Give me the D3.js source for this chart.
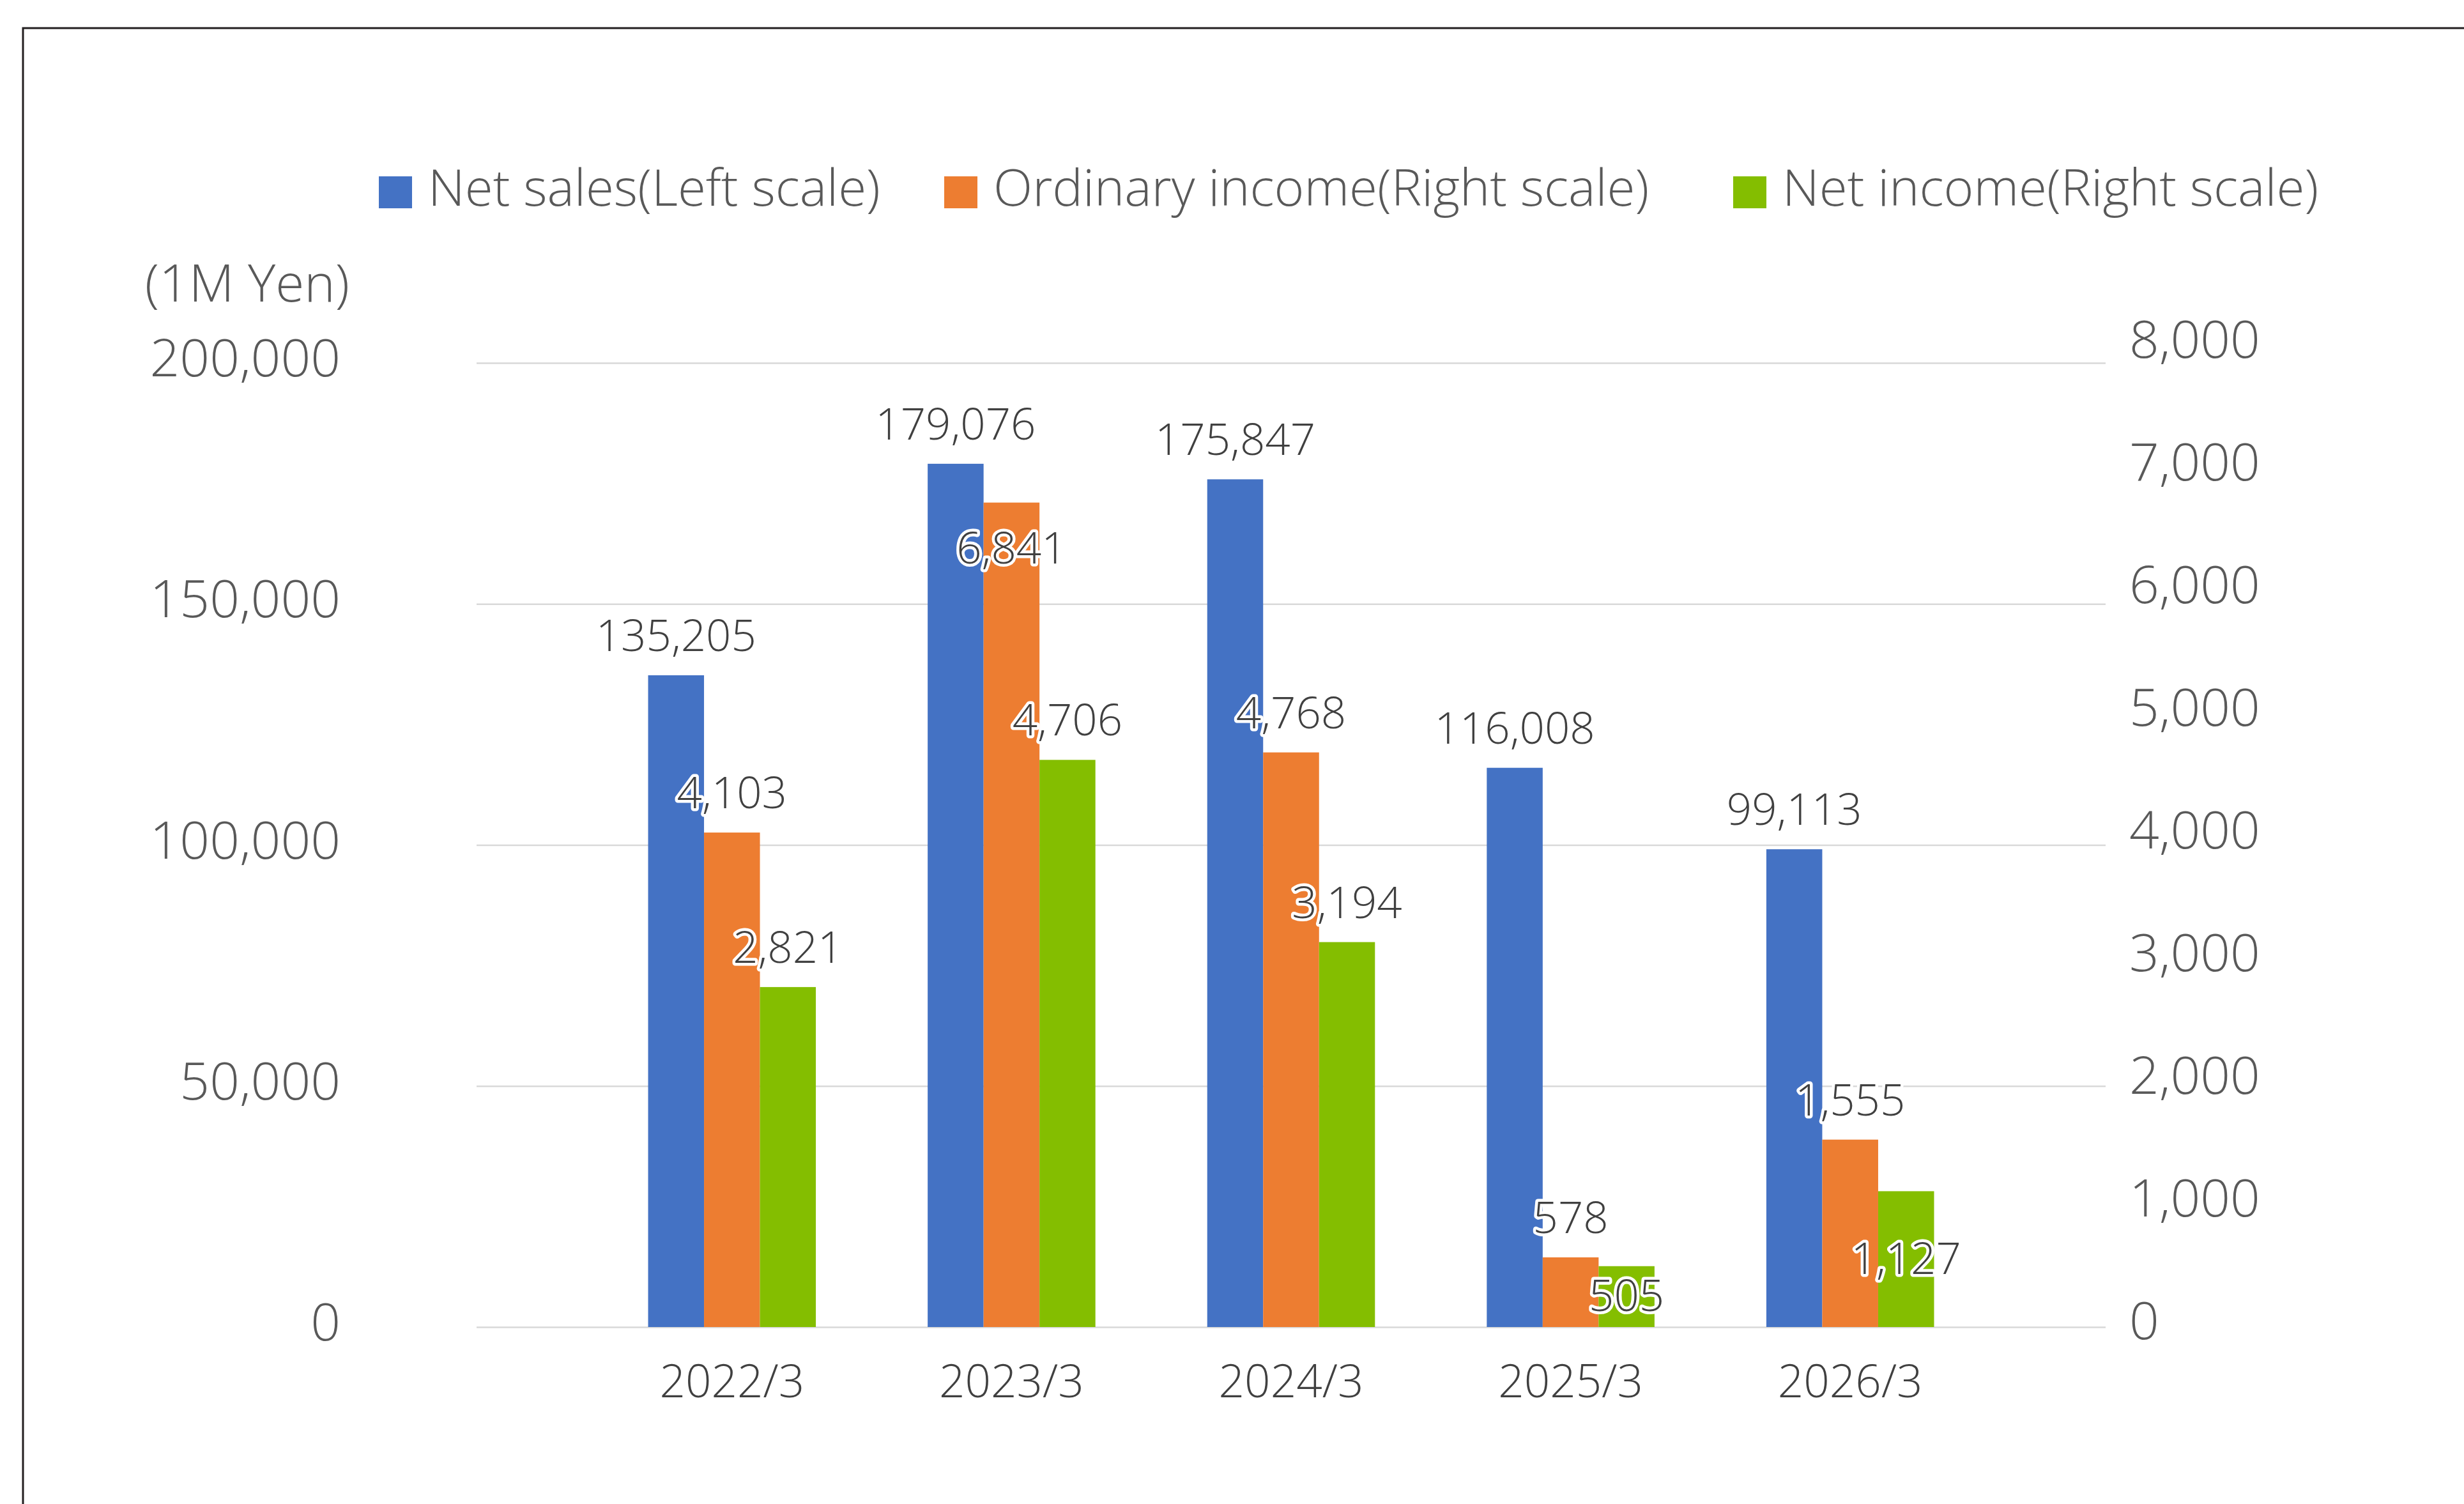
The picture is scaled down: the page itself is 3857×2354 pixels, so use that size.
<!DOCTYPE html>
<html>
<head>
<meta charset="utf-8">
<script src="https://cdn.jsdelivr.net/npm/d3@7"></script>
<style>
  html, body { margin: 0; padding: 0; background: #ffffff; }
  svg text { font-family: "Open Sans", "Noto Sans", sans-serif; font-weight: 300; }
</style>
</head>
<body>
<svg id="chart" width="3857" height="2354"></svg>
<script>
// data
const categories = ["2022/3", "2023/3", "2024/3", "2025/3", "2026/3"];
const seriesNames = ["Net sales(Left scale)", "Ordinary income(Right scale)", "Net income(Right scale)"];
const netSales = [135205, 179076, 175847, 116008, 99113];
const ordinaryIncome = [4103, 6841, 4768, 578, 1555];
const netIncome = [2821, 4706, 3194, 505, 1127];
const leftTicks = [0, 50000, 100000, 150000, 200000];
const rightTicks = [0, 1000, 2000, 3000, 4000, 5000, 6000, 7000, 8000];
const colors = ["#4472C4", "#ED7D31", "#84BE00"];

const svg = d3.select("#chart");

// outer frame
svg.append("rect")
    .attr("x", 36).attr("y", 44)
    .attr("width", 3900).attr("height", 2400)
    .attr("fill", "none")
    .attr("stroke", "#231f20")
    .attr("stroke-width", 3);

const gridLeft = 746, gridRight = 3296;
const yTop = 568, y0 = 2077;

const yL = d3.scaleLinear().domain([0, 200000]).range([y0, yTop]);
const yR = d3.scaleLinear().domain([0, 8000]).range([y0, yTop]);
// right labels sit a little off the gridlines in the original
const yRLabel = d3.scaleLinear().domain([0, 8000]).range([y0 - 10, yTop - 37]);

const x = d3.scaleBand()
    .domain(categories)
    .range([927, 3115])
    .paddingInner(0.4)
    .paddingOuter(0.2);

const x1 = d3.scaleBand()
    .domain(seriesNames)
    .range([0, x.bandwidth()]);

// gridlines
svg.append("g")
    .attr("transform", `translate(${gridLeft},0)`)
    .call(d3.axisLeft(yL).tickValues(leftTicks).tickSize(-(gridRight - gridLeft)).tickFormat(""))
    .call(g => g.select(".domain").remove())
    .call(g => g.selectAll("line").attr("stroke", "#d9d9d9").attr("stroke-width", 2.5));

// left axis labels
svg.append("g")
    .attr("transform", "translate(533,0)")
    .call(d3.axisLeft(yL).tickValues(leftTicks).tickSize(0).tickPadding(0).tickFormat(d3.format(",")))
    .call(g => g.select(".domain").remove())
    .call(g => g.selectAll("text")
        .attr("dy", "0.25em")
        .attr("fill", "#595959")
        .style("font-size", "82px"));

// right axis labels
svg.append("g")
    .attr("transform", "translate(3333,0)")
    .call(d3.axisRight(yRLabel).tickValues(rightTicks).tickSize(0).tickPadding(0).tickFormat(d3.format(",")))
    .call(g => g.select(".domain").remove())
    .call(g => g.selectAll("text")
        .attr("dy", "0.35em")
        .attr("fill", "#595959")
        .style("font-size", "82px"));

// unit label
svg.append("text")
    .attr("x", 547).attr("y", 472)
    .attr("text-anchor", "end")
    .attr("fill", "#595959")
    .style("font-size", "82px")
    .text("(1M Yen)");

// category axis
svg.append("g")
    .attr("transform", `translate(0,${y0})`)
    .call(d3.axisBottom(x).tickSize(0).tickPadding(60))
    .call(g => g.select(".domain").remove())
    .call(g => g.selectAll("text")
        .attr("fill", "#404040")
        .style("font-size", "71px"));

// bars
const rows = categories.map((c, i) => [
    { cat: c, name: seriesNames[0], value: netSales[i], y: yL, color: colors[0] },
    { cat: c, name: seriesNames[1], value: ordinaryIncome[i], y: yR, color: colors[1] },
    { cat: c, name: seriesNames[2], value: netIncome[i], y: yR, color: colors[2] }
]);

const groups = svg.append("g").selectAll("g")
    .data(rows)
    .join("g")
    .attr("transform", d => `translate(${x(d[0].cat)},0)`);

groups.selectAll("rect")
    .data(d => d)
    .join("rect")
    .attr("x", d => x1(d.name))
    .attr("y", d => d.y(d.value))
    .attr("width", x1.bandwidth())
    .attr("height", d => y0 - d.y(d.value))
    .attr("fill", d => d.color);

// label placement: outside end, pushed into the bar when it would hit the neighbour's label
rows.forEach(group => {
    group.forEach((d, i) => {
        const top = d.y(d.value);
        d.labelY = top - 38;
        if (i > 0 && Math.abs(d.labelY - group[i - 1].labelY) < 95) {
            const h = y0 - top;
            d.labelY = h < 300 ? top + h / 2 + 23 : top + 95;
        }
    });
});

groups.selectAll("text.lbl")
    .data(d => d)
    .join("text")
    .attr("class", "lbl")
    .attr("x", d => x1(d.name) + x1.bandwidth() / 2)
    .attr("y", d => d.labelY)
    .attr("text-anchor", "middle")
    .attr("fill", "#404040")
    .attr("stroke", "#ffffff")
    .attr("stroke-width", 9)
    .attr("stroke-linejoin", "round")
    .attr("paint-order", "stroke")
    .style("font-size", "69px")
    .text(d => d3.format(",")(d.value));

// legend
const legendX = [593, 1478, 2713];
const legend = svg.append("g").selectAll("g")
    .data(seriesNames)
    .join("g")
    .attr("transform", (d, i) => `translate(${legendX[i]},0)`);

legend.append("rect")
    .attr("x", 0).attr("y", 276)
    .attr("width", 52).attr("height", 50)
    .attr("fill", (d, i) => colors[i]);

legend.append("text")
    .attr("x", 77).attr("y", 322)
    .attr("fill", "#595959")
    .style("font-size", "80px")
    .text(d => d);
</script>
</body>
</html>
